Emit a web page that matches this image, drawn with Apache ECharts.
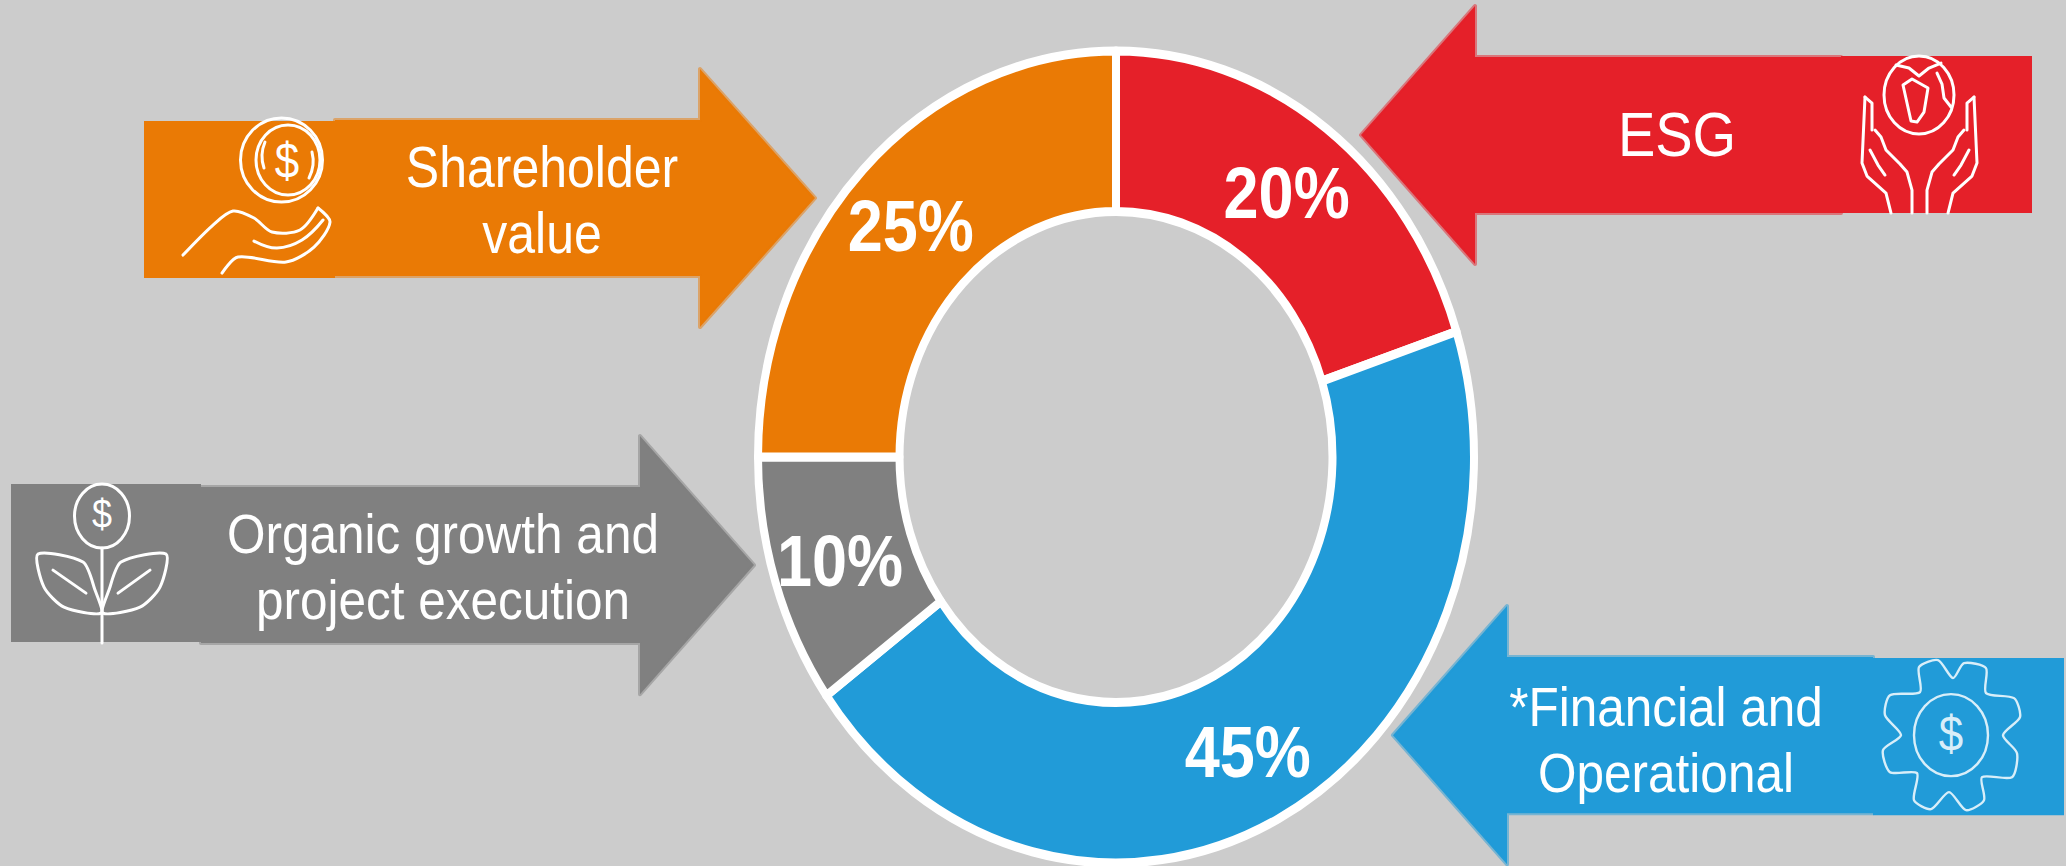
<!DOCTYPE html>
<html>
<head>
<meta charset="utf-8">
<title>Scorecard weighting</title>
<script src="https://cdn.jsdelivr.net/npm/echarts@6/dist/echarts.min.js"></script>
<style>
  html, body { margin: 0; padding: 0; width: 2066px; height: 866px; background: #cccccc; }
  /* The slide art is taller than it is wide, so the whole drawing is stretched vertically. */
  #chart { width: 2066px; height: 764px; transform-origin: 0 0; transform: scaleY(1.134); }
</style>
</head>
<body>
<div id="chart"></div>
<script>
// Scorecard weights, clockwise from twelve o'clock
const categories = ['ESG', '*Financial and Operational', 'Organic growth and project execution', 'Shareholder value'];
const weights = [20, 45, 10, 25];
const colors = ['#e52029', '#219bd8', '#808080', '#ea7a05'];

const calloutText = ['ESG', '*Financial and\nOperational', 'Organic growth and\nproject execution', 'Shareholder\nvalue'];
const calloutFontSizes = [56, 49.5, 49.5, 50];
const calloutCentres = [[1677, 134], [1666, 739], [443, 566], [542, 200]];

// Arrow outlines: tip x, head base x, tail x, tip y, shaft half height, head half height
const arrowShapes = [
  [1361, 1475, 1841, 135, 78, 129],
  [1393, 1507, 1873, 735, 78, 129],
  [754, 640, 201, 565, 78, 129],
  [815, 700, 335, 198, 78, 129]
];
// Icon plates at the tail of each arrow: x, y, width, height
const iconPlates = [
  [1841, 56, 191, 157],
  [1873, 658, 191, 157],
  [11, 484, 190, 158],
  [144, 121, 191, 157]
];

const STRETCH = 1.134;
const toChartY = y => y / STRETCH;
const FONT = '"Liberation Sans", Arial, sans-serif';

function arrowElement(shape, color) {
  const [tip, base, tail, cy, shaft, head] = shape;
  return {
    type: 'polygon',
    shape: { points: [[tip, cy], [base, cy - head], [base, cy - shaft], [tail, cy - shaft], [tail, cy + shaft], [base, cy + shaft], [base, cy + head]] },
    style: { fill: color, stroke: color + '80', lineWidth: 4, lineJoin: 'round' }
  };
}

const line = { fill: 'none', stroke: '#ffffff', lineWidth: 3, lineJoin: 'round', lineCap: 'round' };
const thin = { fill: 'none', stroke: '#d8eef9', lineWidth: 2.4, lineJoin: 'round', lineCap: 'round' };
const stroke = (points, smooth) => ({ type: 'polyline', shape: { points, smooth: smooth || 0 }, style: line });
const closed = (points, smooth, style) => ({ type: 'polygon', shape: { points, smooth: smooth || 0 }, style: style || line });
const ring = (cx, cy, rx, ry, style) => ({ type: 'ellipse', shape: { cx, cy, rx, ry }, style: style || line });

// Outline icons, in page pixels
const iconElements = [
  // globe held in two hands
  ring(1919, 95, 35, 39),
  closed([[1903, 85], [1912, 79], [1928, 88], [1924, 112], [1917, 122], [1911, 121]]),
  stroke([[1896, 65], [1909, 68], [1919, 76], [1929, 68], [1941, 63]]),
  stroke([[1937, 73], [1942, 84], [1944, 98], [1951, 107]]),
  stroke([[1865, 97], [1862, 163], [1867, 176], [1886, 193], [1891, 213]]),
  stroke([[1865, 97], [1872, 103], [1872, 130]]),
  stroke([[1875, 130], [1881, 137], [1886, 150], [1900, 164], [1907, 172], [1912, 190], [1912, 213]]),
  stroke([[1870, 150], [1878, 165], [1885, 175]]),
  stroke([[1974, 97], [1977, 163], [1972, 176], [1953, 193], [1948, 213]]),
  stroke([[1974, 97], [1967, 103], [1967, 130]]),
  stroke([[1964, 130], [1958, 137], [1953, 150], [1939, 164], [1932, 172], [1927, 190], [1927, 213]]),
  stroke([[1969, 150], [1961, 165], [1954, 175]]),
  // coin over an open hand
  ring(281.5, 160, 41, 42),
  ring(288, 160, 32, 35),
  stroke([[265, 142], [262, 155], [264, 168]], 0.5),
  stroke([[312, 152], [313, 165], [309, 178]], 0.5),
  stroke([[183, 255], [213, 225], [233, 211], [254, 218], [272, 232], [300, 230], [318, 208]], 0.3),
  stroke([[318, 208], [330, 222], [314, 247], [286, 262], [238, 257], [222, 273]], 0.3),
  stroke([[254, 241], [277, 248], [302, 240], [323, 220]], 0.4),
  // seedling with a coin for a bud
  ring(102, 516, 27.5, 32),
  stroke([[102, 548], [102, 643]]),
  closed([[38, 554], [83, 562], [95, 590], [101, 613], [64, 607], [44, 587]], 0.25),
  closed([[166, 554], [121, 562], [109, 590], [103, 613], [140, 607], [160, 587]], 0.25),
  stroke([[53, 570], [86, 593]]),
  stroke([[150, 570], [118, 593]]),
  // gear with a coin at the hub
  ring(1951, 735, 37, 41, thin),
  closed([[1953, 678], [1964, 663], [1986, 668], [1986, 693], [2014, 698], [2020, 717], [2003, 735], [2017, 753],
    [2012, 777], [1982, 777], [1984, 800], [1966, 810], [1949, 792], [1931, 809], [1914, 800], [1917, 773],
    [1890, 772], [1883, 750], [1901, 735], [1885, 715], [1890, 695], [1920, 692], [1919, 667], [1938, 660]], 0.25, thin)
];

// Text sits in chart coordinates so the stretch applies to it too
const textElement = (text, x, y, size, fill, weight) => ({
  type: 'text', x, y: toChartY(y),
  style: { text, x: 0, y: 0, align: 'center', verticalAlign: 'middle', fill: fill || '#ffffff', font: (weight || 'normal') + ' ' + size + 'px ' + FONT, lineHeight: 58 }
});

const calloutLabels = calloutText.map((t, i) => textElement(t, calloutCentres[i][0], calloutCentres[i][1], calloutFontSizes[i]));
const dollarSigns = [
  textElement('$', 287, 160, 44),
  textElement('$', 102, 514, 36),
  textElement('$', 1951, 733, 44, '#d8eef9')
];

const chart = echarts.init(document.getElementById('chart'), null, { renderer: 'svg', width: 2066, height: 764 });
chart.setOption({
  animation: false,
  backgroundColor: '#cccccc',
  series: [{
    type: 'pie',
    silent: true,
    startAngle: 90,
    clockwise: true,
    center: [1116, toChartY(457)],
    radius: [216.5, 358],
    avoidLabelOverlap: false,
    itemStyle: { borderColor: '#ffffff', borderWidth: 8 },
    label: {
      show: true,
      position: 'inside',
      formatter: '{c}%',
      color: '#ffffff',
      fontFamily: FONT,
      fontWeight: 'bold',
      fontSize: 63,
      offset: [0, 2]
    },
    labelLine: { show: false },
    data: categories.map((name, i) => ({ name, value: weights[i], itemStyle: { color: colors[i] } }))
  }],
  graphic: [
    {
      // Shapes are given in page pixels; this group undoes the page stretch for them
      type: 'group',
      silent: true,
      scaleY: 1 / STRETCH,
      children: arrowShapes.map((s, i) => arrowElement(s, colors[i]))
        .concat(iconPlates.map((p, i) => ({
          type: 'rect',
          shape: { x: p[0], y: p[1], width: p[2], height: p[3] },
          style: { fill: colors[i] }
        })))
        .concat(iconElements)
    },
    { type: 'group', silent: true, children: calloutLabels.concat(dollarSigns) }
  ]
});
</script>
</body>
</html>
